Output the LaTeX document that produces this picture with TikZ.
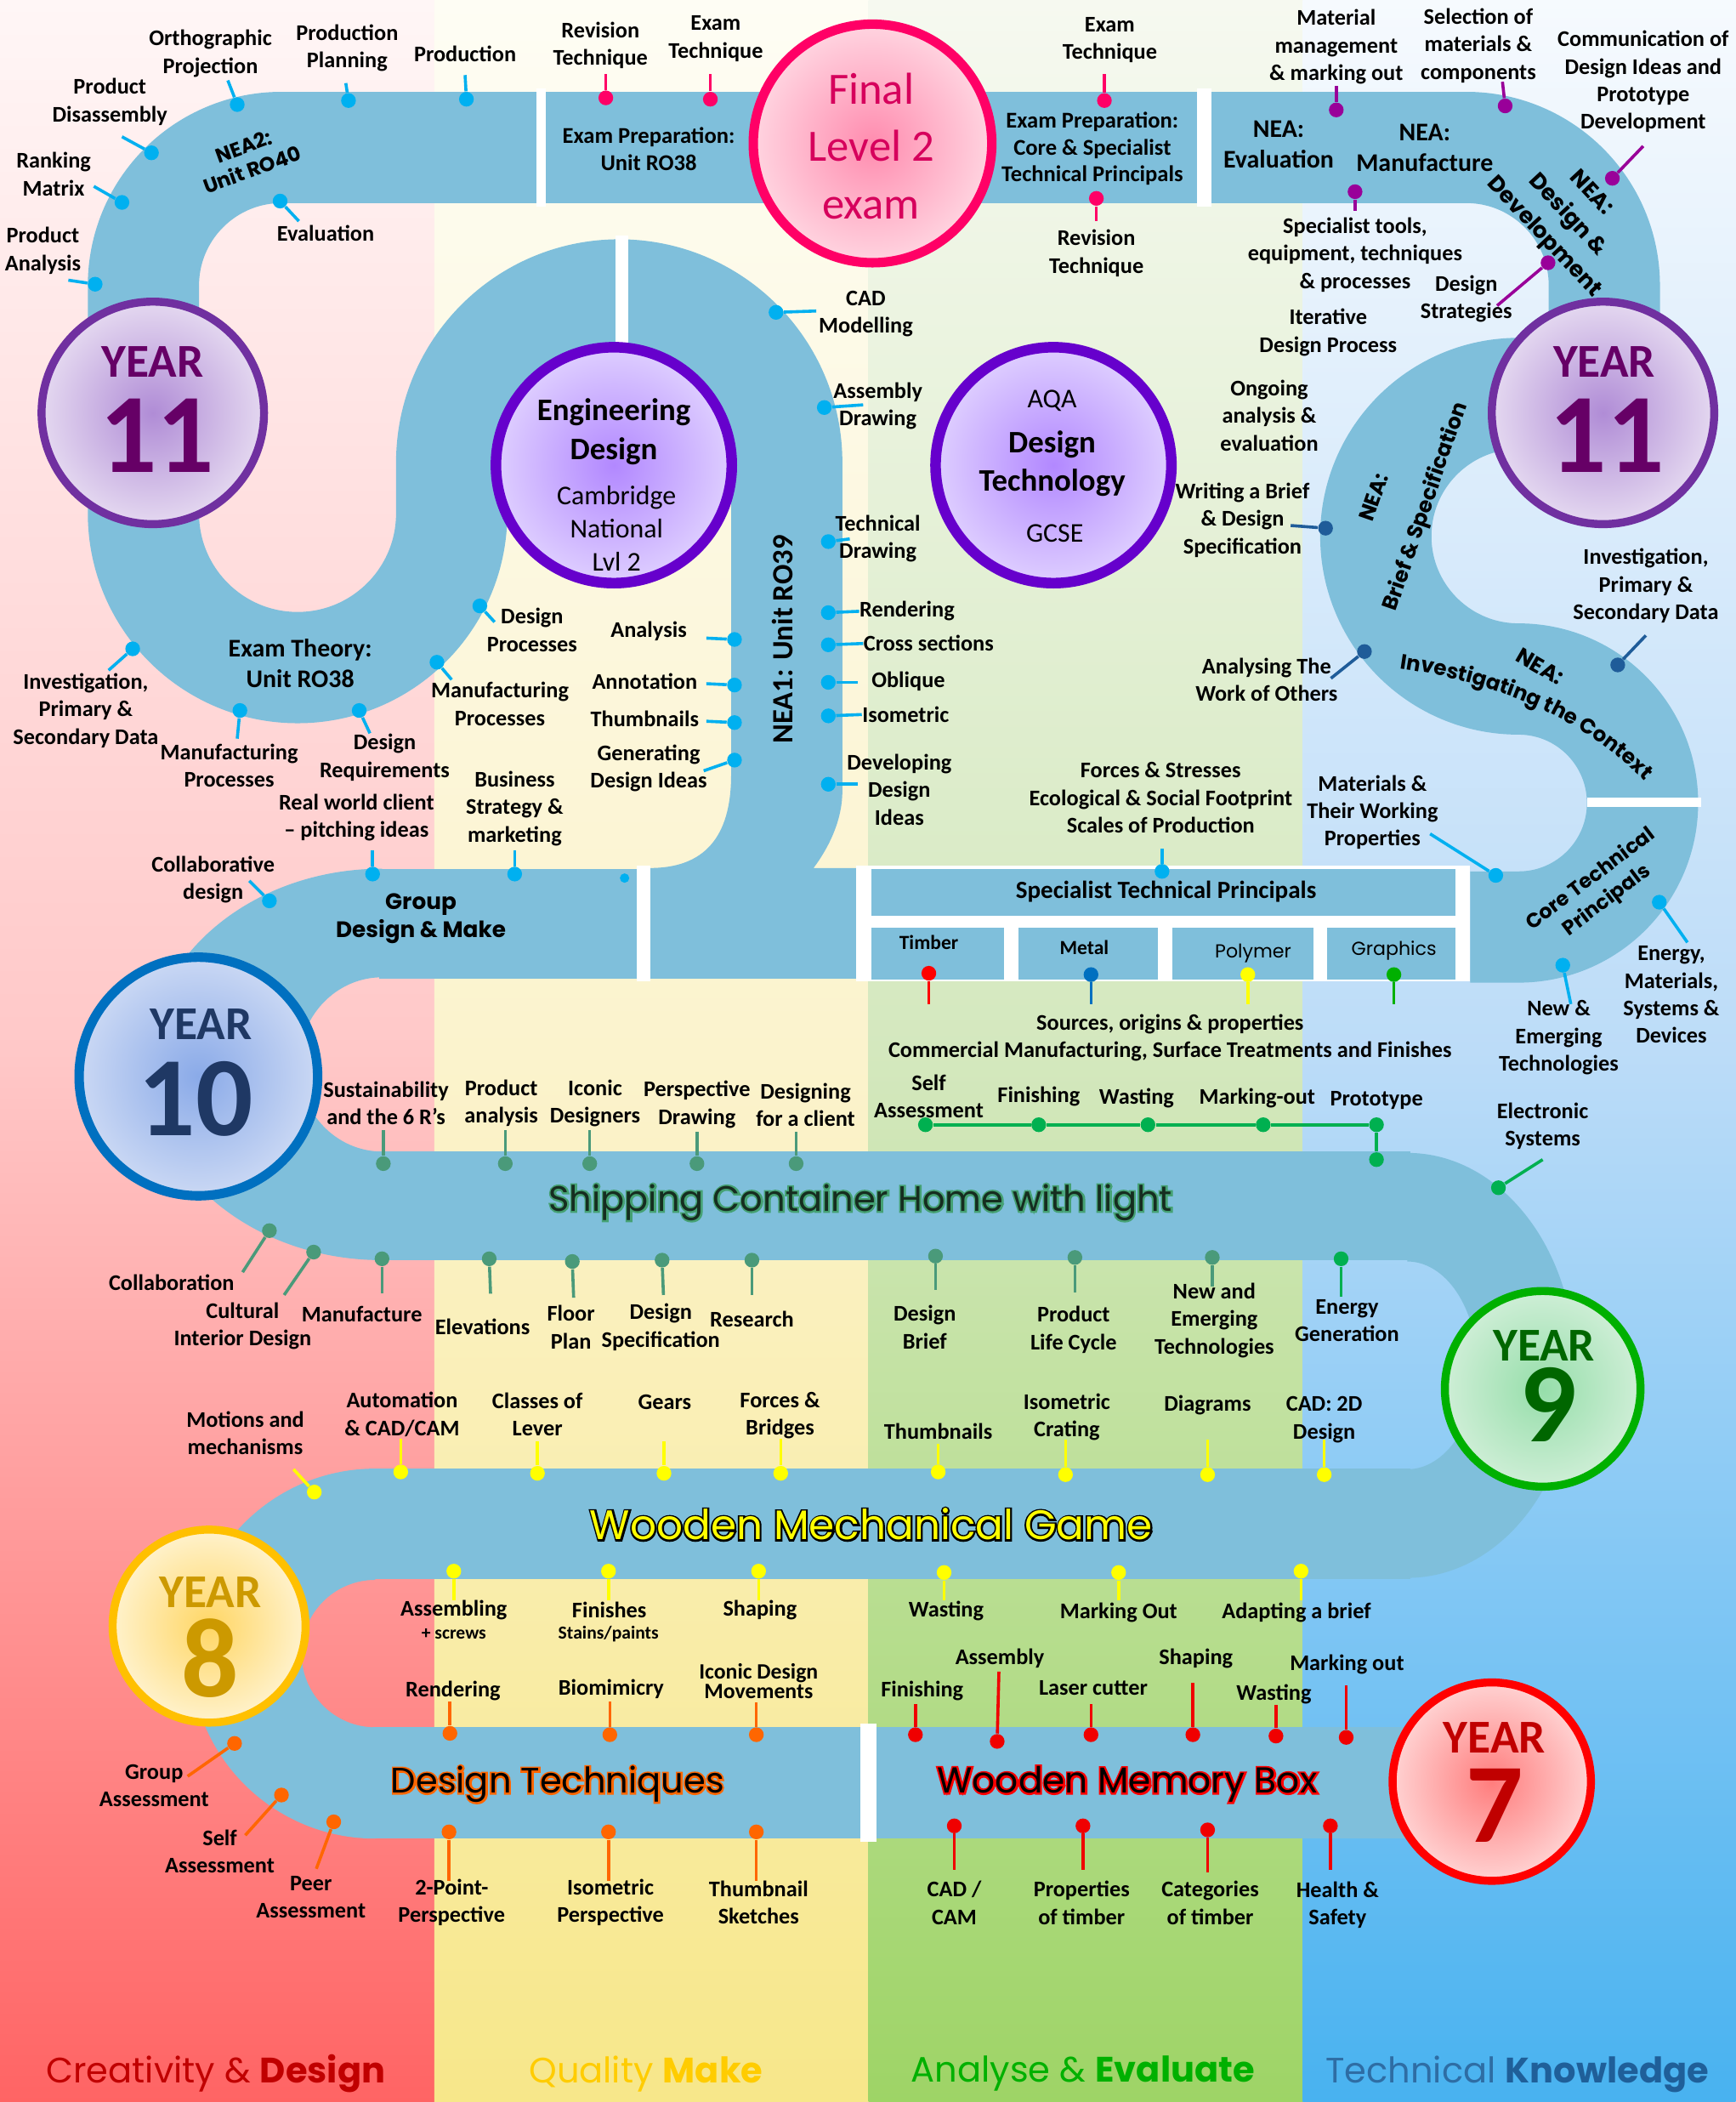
\documentclass[tikz,border=0pt]{standalone}
\usepackage{fontspec}
\setmainfont{Carlito}
\newfontfamily\gothic{Poppins}
\usetikzlibrary{decorations.text}

\definecolor{roadc}{RGB}{127,191,219}
\definecolor{bgRt}{RGB}{255,246,246}\definecolor{bgRm}{RGB}{255,200,200}\definecolor{bgRb}{RGB}{255,100,100}
\definecolor{bgYt}{RGB}{254,253,244}\definecolor{bgYm}{RGB}{251,243,205}\definecolor{bgYb}{RGB}{247,231,138}
\definecolor{bgGt}{RGB}{246,249,240}\definecolor{bgGm}{RGB}{212,232,190}\definecolor{bgGb}{RGB}{158,212,102}
\definecolor{bgBt}{RGB}{246,250,254}\definecolor{bgBm}{RGB}{188,220,248}\definecolor{bgBb}{RGB}{72,178,240}
\definecolor{camb}{RGB}{0,176,240}
\definecolor{exm}{RGB}{255,0,102}
\definecolor{neap}{RGB}{153,0,153}
\definecolor{neab}{RGB}{31,92,153}
\definecolor{ship}{RGB}{74,154,122}
\definecolor{proto}{RGB}{0,176,80}
\definecolor{mech}{RGB}{255,255,0}
\definecolor{tech}{RGB}{255,102,0}
\definecolor{memo}{RGB}{240,0,0}
\definecolor{metc}{RGB}{0,112,192}
\definecolor{grac}{RGB}{0,176,0}
\definecolor{y11b}{RGB}{112,48,160}\definecolor{y11i}{RGB}{176,140,214}\definecolor{y11o}{RGB}{228,216,240}\definecolor{y11t}{RGB}{102,0,102}
\definecolor{engb}{RGB}{102,0,204}\definecolor{engi}{RGB}{178,136,255}\definecolor{engo}{RGB}{222,206,255}
\definecolor{finb}{RGB}{255,0,102}\definecolor{fini}{RGB}{255,140,175}\definecolor{fino}{RGB}{255,212,224}\definecolor{fint}{RGB}{214,0,92}
\definecolor{y10b}{RGB}{0,112,192}\definecolor{y10i}{RGB}{138,170,232}\definecolor{y10o}{RGB}{202,216,244}\definecolor{y10t}{RGB}{31,56,100}
\definecolor{y9b}{RGB}{0,176,0}\definecolor{y9i}{RGB}{150,222,170}\definecolor{y9o}{RGB}{206,238,214}\definecolor{y9t}{RGB}{0,102,0}
\definecolor{y8b}{RGB}{255,192,0}\definecolor{y8i}{RGB}{255,214,100}\definecolor{y8o}{RGB}{255,242,204}\definecolor{y8t}{RGB}{204,153,0}
\definecolor{y7b}{RGB}{255,0,0}\definecolor{y7i}{RGB}{255,125,125}\definecolor{y7o}{RGB}{255,210,210}\definecolor{y7t}{RGB}{192,0,0}
\definecolor{shipf}{RGB}{22,45,32}
\definecolor{lgR}{RGB}{192,0,0}\definecolor{lgY}{RGB}{255,204,0}\definecolor{lgG}{RGB}{0,176,0}\definecolor{lgB}{RGB}{46,109,164}\definecolor{lgBb}{RGB}{31,95,153}

% outlined title: stroke copy underneath, filled copy on top
\newcommand\ghalo[3]{\leavevmode
  \rlap{\special{pdf:literal #1 RG 1 Tr 1.5 w}#3\special{pdf:literal 0 Tr}}%
  \textcolor{#2}{#3}}

\begin{document}
\begin{tikzpicture}[x=0.02cm, y=-0.02cm,
  road/.style={draw=roadc, line width=1.66cm, line join=round},
  roadfill/.style={fill=roadc},
  gap/.style={fill=white},
  lbl/.style={font=\fontsize{9.5}{11.7}\selectfont\bfseries, align=center, inner sep=0pt},
  small/.style={font=\fontsize{7.8}{8}\selectfont\bfseries, inner sep=0pt},
  onroad/.style={font=\fontsize{9.6}{11.4}\selectfont\bfseries, align=center, inner sep=0pt},
  bent/.style={font=\gothic\bfseries\fontsize{9}{11.3}\selectfont, align=center, inner sep=0pt},
  pin/.style={line width=1.3pt},
  pdot/.style={circle, fill, inner sep=0pt, minimum size=0.22cm},
  ball/.style={circle, inner sep=0pt, line width=3.4pt},
  yeartxt/.style={font=\fontsize{20}{20}\selectfont\bfseries, inner sep=0pt},
  yearnum/.style={font=\fontsize{48}{48}\selectfont\bfseries, inner sep=0pt},
  legend/.style={font=\gothic\fontsize{15}{15}\selectfont, inner sep=0pt}]

\useasboundingbox (0,0) rectangle (1295,1568);

% colour bands
\shade[top color=bgRt, bottom color=bgRb, middle color=bgRm] (0,0) rectangle (324.5,1568);
\shade[top color=bgYt, bottom color=bgYb, middle color=bgYm] (324,0) rectangle (648.5,1568);
\shade[top color=bgGt, bottom color=bgGb, middle color=bgGm] (648,0) rectangle (972.5,1568);
\shade[top color=bgBt, bottom color=bgBb, middle color=bgBm] (972,0) rectangle (1295,1568);

% year 11 road, both routes
\draw[road] (1097,691.5) -- (1133,691.5) arc[start angle=90, end angle=-90, radius=92.5]
  arc[start angle=90, end angle=270, radius=106.5] -- (1197,293.5) -- (1197,213)
  arc[start angle=0, end angle=-90, radius=103] -- (210,110)
  arc[start angle=-90, end angle=-180, radius=103] -- (107,383)
  arc[start angle=180, end angle=0, radius=115] -- (337,345)
  arc[start angle=180, end angle=360, radius=125];
\fill[roadfill] (545.5,343) -- (545.5,578) .. controls (545.5,625) and (525,647.5) .. (485,647.5)
  -- (485,730) -- (640,730) -- (640,647.5) -- (607,647.5) .. controls (620,630) and (628.5,610) .. (628.5,590)
  -- (628.5,343) -- cycle;

% year 10 down to year 7
\fill[roadfill] (283,648) rectangle (480,730);
\fill[roadfill] (285,648) arc[start angle=270, end angle=90, x radius=175, y radius=146]
  -- (285,859) arc[start angle=90, end angle=270, x radius=62, y radius=65] -- cycle;
\fill[roadfill] (283,859) rectangle (1052,940);
\fill[roadfill] (1050,860) arc[start angle=-90, end angle=90, x radius=125, y radius=158.5]
  -- (1050,1096) arc[start angle=90, end angle=-90, x radius=52, y radius=77.5] -- cycle;
\fill[roadfill] (278,1095.5) rectangle (1052,1178);
\fill[roadfill] (280,1095.5) arc[start angle=270, end angle=90, radius=138]
  -- (280,1288.5) arc[start angle=90, end angle=270, radius=55] -- cycle;
\fill[roadfill] (278,1288.5) rectangle (1110,1371.5);

% breaks in the road
\fill[gap] (400,66) rectangle (407,154);
\fill[gap] (893,66) rectangle (904,154);
\fill[gap] (459,176) rectangle (469,264);
\fill[gap] (475,646) rectangle (485,732);
\fill[gap] (642,1286) rectangle (654,1374);
\fill[gap] (1184,595) rectangle (1269,602);
\fill[gap] (639,646) rectangle (1097,732);
\fill[roadfill] (650,648) rectangle (1086,683);
\fill[roadfill] (650,692) rectangle (749,731);
\fill[roadfill] (760,692) rectangle (864,731);
\fill[roadfill] (875,692) rectangle (980,731);
\fill[roadfill] (990,692) rectangle (1086,731);

% circles
\node[ball, draw=finb, line width=4pt, inner color=fini, outer color=fino, minimum size=3.56cm] (fin) at (651,107) {};
\node[ball, draw=y11b, inner color=y11i, outer color=y11o, minimum size=3.32cm] (y11l) at (114,308) {};
\node[ball, draw=y11b, inner color=y11i, outer color=y11o, minimum size=3.32cm] (y11r) at (1196,308) {};
\node[ball, draw=engb, line width=4.5pt, inner color=engi, outer color=engo, minimum size=3.52cm] (engc) at (458,347) {};
\node[ball, draw=engb, line width=4.5pt, inner color=engi, outer color=engo, minimum size=3.52cm] (aqac) at (786,347) {};
\node[ball, draw=y10b, line width=4pt, inner color=y10i, outer color=y10o, minimum size=3.56cm] (y10) at (148,803) {};
\node[ball, draw=y9b, inner color=y9i, outer color=y9o, minimum size=2.92cm] (y9) at (1151,1036) {};
\node[ball, draw=y8b, inner color=y8i, outer color=y8o, minimum size=2.88cm] (y8) at (156,1213) {};
\node[ball, draw=y7b, inner color=y7i, outer color=y7o, minimum size=2.96cm] (y7) at (1113,1329) {};

\node[font=\fontsize{19}{24.4}\selectfont, text=fint, align=center, inner sep=0pt] (finT) at (650,109) {Final\\Level 2\\exam};
\node[yeartxt, text=y11t] (y11lY) at (114,270) {YEAR};
\node[yearnum, text=y11t] (y11lN) at (117,325) {11};
\node[yeartxt, text=y11t] (y11rY) at (1197,270) {YEAR};
\node[yearnum, text=y11t] (y11rN) at (1199,325) {11};
\node[font=\fontsize{13.3}{16.4}\selectfont\bfseries, align=center, inner sep=0pt] (engT) at (458,322) {Engineering\\Design};
\node[font=\fontsize{11.5}{14.1}\selectfont, align=center, inner sep=0pt] (engS) at (460,394) {Cambridge\\National\\Lvl 2};
\node[font=\fontsize{11.5}{14}\selectfont, inner sep=0pt] (aqaT) at (785,299) {AQA};
\node[font=\fontsize{13.3}{16.3}\selectfont\bfseries, align=center, inner sep=0pt] (aqaD) at (785,346) {Design\\Technology};
\node[font=\fontsize{11.5}{14}\selectfont, inner sep=0pt] (aqaG) at (787,398) {GCSE};
\node[yeartxt, text=y10t] (y10Y) at (150,764) {YEAR};
\node[yearnum, text=y10t] (y10N) at (146,820) {10};
\node[yeartxt, text=y9t] (y9Y) at (1152,1004) {YEAR};
\node[yearnum, text=y9t] (y9N) at (1155,1048) {9};
\node[yeartxt, text=y8t] (y8Y) at (157,1188) {YEAR};
\node[yearnum, text=y8t] (y8N) at (157,1237) {8};
\node[yeartxt, text=y7t] (y7Y) at (1115,1296) {YEAR};
\node[yearnum, text=y7t] (y7N) at (1115,1347) {7};

% text on the road
\node[bent, font=\gothic\bfseries\fontsize{8.6}{10.5}\selectfont, rotate=20] (nea2) at (185,118) {NEA2:\\Unit RO40};
\node[onroad] (exp1) at (484,111) {Exam Preparation:\\Unit RO38};
\node[onroad] (exp2) at (815,111) {Exam Preparation:\\Core \& Specialist\\Technical Principals};
\node[onroad, font=\fontsize{10.8}{13}\selectfont\bfseries] (neaE) at (954,108) {NEA:\\Evaluation};
\node[onroad, font=\fontsize{10.8}{13}\selectfont\bfseries] (neaM) at (1063,110) {NEA:\\Manufacture};
\node[bent, font=\gothic\bfseries\fontsize{9.5}{13.6}\selectfont, rotate=-47] (neaD) at (1169,161) {NEA:\\Design \&\\Development};
\node[bent, rotate=71] (neaB1) at (1025,371) {NEA:};
\node[bent, rotate=71] (neaB2) at (1064,378) {Brief \& Specification};
\node[bent, font=\gothic\bfseries\fontsize{9.3}{11.3}\selectfont, rotate=-30] (neaI1) at (1149,497) {NEA:};
\path[decorate, decoration={text along path, text align=center,
  text={|\gothic\bfseries\fontsize{8.9}{10}\selectfont|Investigating the Context}}]
  (1040,498) .. controls (1105,507) and (1178,530) .. (1230,586);
\node[bent, font=\gothic\bfseries\fontsize{8.6}{11.3}\selectfont, rotate=37] (ctp) at (1193,664) {Core Technical\\Principals};
\node[onroad, font=\fontsize{10.8}{13}\selectfont\bfseries] (exth) at (224,495) {Exam Theory:\\Unit RO38};
\node[onroad, font=\fontsize{12.5}{13}\selectfont\bfseries, rotate=90] (nea1) at (584,477) {NEA1: Unit RO39};
\node[bent, font=\gothic\bfseries\fontsize{9.5}{12}\selectfont] (grp) at (314,685) {Group\\Design \& Make};
\node[onroad, font=\fontsize{10.5}{11}\selectfont\bfseries] (stp) at (870,665) {Specialist Technical Principals};
\node[onroad, font=\fontsize{8.5}{9}\selectfont\bfseries] (tim) at (693,703) {Timber};
\node[onroad, font=\fontsize{8.5}{9}\selectfont\bfseries] (met) at (809,707) {Metal};
\node[onroad, font=\gothic\fontsize{8}{9}\selectfont] (pol) at (935,711) {Polymer};
\node[onroad, font=\gothic\fontsize{8}{9}\selectfont] (gra) at (1040,709) {Graphics};
\node[inner sep=0pt, font=\gothic\fontsize{15}{15}\selectfont] (shipT) at (642,897) {\ghalo{0.27 0.63 0.45}{shipf}{Shipping Container Home with light}};
\node[inner sep=0pt, font=\gothic\fontsize{17.5}{17.5}\selectfont] (wmgT) at (650,1137) {\ghalo{0 0 0}{mech}{Wooden Mechanical Game}};
\node[inner sep=0pt, font=\gothic\fontsize{15}{15}\selectfont] (dtT) at (416,1331) {\ghalo{1 0.4 0}{black}{Design Techniques}};
\node[inner sep=0pt, font=\gothic\fontsize{15.3}{15.3}\selectfont] (wmbT) at (841,1331) {\ghalo{1 0 0}{black}{Wooden Memory Box}};

% year 11: NEA2 and exam
\node[lbl] (pan) at (32,187) {Product\\Analysis}; \coordinate (panE) at (51,209);
\node[pdot,camb] (panD) at (71,212) {}; \draw[pin,camb] (panD) -- (panE);
\node[lbl] (rkm) at (40,130) {Ranking\\Matrix}; \coordinate (rkmE) at (70,139);
\node[pdot,camb] (rkmD) at (91,151) {}; \draw[pin,camb] (rkmD) -- (rkmE);
\node[lbl] (pdis) at (82,76) {Product\\Disassembly}; \coordinate (pdisE) at (91,102);
\node[pdot,camb] (pdisD) at (113,114) {}; \draw[pin,camb] (pdisD) -- (pdisE);
\node[lbl] (orth) at (157,40) {Orthographic\\Projection}; \coordinate (orthE) at (170,60);
\node[pdot,camb] (orthD) at (177,78) {}; \draw[pin,camb] (orthD) -- (orthE);
\node[lbl] (pplan) at (259,36) {Production\\Planning}; \coordinate (pplanE) at (258,62);
\node[pdot,camb] (pplanD) at (260,75) {}; \draw[pin,camb] (pplanD) -- (pplanE);
\node[lbl] (prod) at (347,40) {Production}; \coordinate (prodE) at (347,56);
\node[pdot,camb] (prodD) at (348,74) {}; \draw[pin,camb] (prodD) -- (prodE);
\node[lbl] (evl) at (243,174) {Evaluation}; \coordinate (evlE) at (223,165);
\node[pdot,camb] (evlD) at (209,150) {}; \draw[pin,camb] (evlD) -- (evlE);
\node[lbl] (rvt1) at (448,34) {Revision\\Technique}; \coordinate (rvt1E) at (452,55);
\node[pdot,exm] (rvt1D) at (452,73) {}; \draw[pin,exm] (rvt1D) -- (rvt1E);
\node[lbl] (ext1) at (534,29) {Exam\\Technique}; \coordinate (ext1E) at (530,55);
\node[pdot,exm] (ext1D) at (530,74) {}; \draw[pin,exm] (ext1D) -- (ext1E);
\node[lbl] (ext2) at (828,30) {Exam\\Technique}; \coordinate (ext2E) at (824,55);
\node[pdot,exm] (ext2D) at (824,75) {}; \draw[pin,exm] (ext2D) -- (ext2E);
\node[lbl] (rvt2) at (818,189) {Revision\\Technique}; \coordinate (rvt2E) at (818,165);
\node[pdot,exm] (rvt2D) at (818,148) {}; \draw[pin,exm] (rvt2D) -- (rvt2E);

% year 11: exam theory loop and NEA1
\node[lbl] (inv) at (64,530) {Investigation,\\Primary \&\\Secondary Data}; \coordinate (invE) at (81,500);
\node[pdot,camb] (invD) at (99,484) {}; \draw[pin,camb] (invD) -- (invE);
\node[lbl] (mfp1) at (171,571) {Manufacturing\\Processes}; \coordinate (mfp1E) at (177,551);
\node[pdot,camb] (mfp1D) at (179,530) {}; \draw[pin,camb] (mfp1D) -- (mfp1E);
\node[lbl] (dreq) at (287,565) {Design\\Requirements}; \coordinate (dreqE) at (276,547);
\node[pdot,camb] (dreqD) at (268,530) {}; \draw[pin,camb] (dreqD) -- (dreqE);
\node[lbl] (dproc) at (397,470) {Design\\Processes}; \coordinate (dprocE) at (369,464);
\node[pdot,camb] (dprocD) at (358,452) {}; \draw[pin,camb] (dprocD) -- (dprocE);
\node[lbl] (mfp2) at (373,525) {Manufacturing\\Processes}; \coordinate (mfp2E) at (337,507);
\node[pdot,camb] (mfp2D) at (326,494) {}; \draw[pin,camb] (mfp2D) -- (mfp2E);
\node[lbl] (ana) at (484,471) {Analysis}; \coordinate (anaE) at (527,476);
\node[pdot,camb] (anaD) at (548,477) {}; \draw[pin,camb] (anaD) -- (anaE);
\node[lbl] (ann) at (481,508) {Annotation}; \coordinate (annE) at (527,510);
\node[pdot,camb] (annD) at (548,511) {}; \draw[pin,camb] (annD) -- (annE);
\node[lbl] (thb) at (481,536) {Thumbnails}; \coordinate (thbE) at (527,538);
\node[pdot,camb] (thbD) at (548,539) {}; \draw[pin,camb] (thbD) -- (thbE);
\node[lbl] (gen) at (484,573) {Generating\\Design Ideas}; \coordinate (genE) at (525,575);
\node[pdot,camb] (genD) at (548,567) {}; \draw[pin,camb] (genD) -- (genE);
\node[lbl] (rwc) at (266,610) {Real world client\\– pitching ideas}; \coordinate (rwcE) at (278,634);
\node[pdot,camb] (rwcD) at (278,652) {}; \draw[pin,camb] (rwcD) -- (rwcE);
\node[lbl] (bsm) at (384,603) {Business\\Strategy \&\\marketing}; \coordinate (bsmE) at (384,634);
\node[pdot,camb] (bsmD) at (384,652) {}; \draw[pin,camb] (bsmD) -- (bsmE);
\node[lbl] (cold) at (159,656) {Collaborative\\design}; \coordinate (coldE) at (186,657);
\node[pdot,camb] (coldD) at (201,672) {}; \draw[pin,camb] (coldD) -- (coldE);
\node[pdot,camb, minimum size=0.14cm] (hdot) at (466,655) {};
\node[lbl] (cad) at (646,234) {CAD\\Modelling}; \coordinate (cadE) at (609,232);
\node[pdot,camb] (cadD) at (579,233) {}; \draw[pin,camb] (cadD) -- (cadE);
\node[lbl] (asd) at (655,303) {Assembly\\Drawing}; \coordinate (asdE) at (644,302);
\node[pdot,camb] (asdD) at (615,304) {}; \draw[pin,camb] (asdD) -- (asdE);
\node[lbl] (tcd) at (655,402) {Technical\\Drawing}; \coordinate (tcdE) at (634,402);
\node[pdot,camb] (tcdD) at (618,404) {}; \draw[pin,camb] (tcdD) -- (tcdE);
\node[lbl, anchor=west] (rend) at (641,456) {Rendering};
\node[pdot,camb] (rendD) at (618,457) {}; \draw[pin,camb] (rendD) -- (rend.west);
\node[lbl, anchor=west] (crs) at (644,480) {Cross sections};
\node[pdot,camb] (crsD) at (618,481) {}; \draw[pin,camb] (crsD) -- (crs.west);
\node[lbl, anchor=west] (obl) at (650,508) {Oblique}; \coordinate (oblE) at (640,509);
\node[pdot,camb] (oblD) at (618,509) {}; \draw[pin,camb] (oblD) -- (oblE);
\node[lbl, anchor=west] (iso) at (643,533) {Isometric};
\node[pdot,camb] (isoD) at (618,534) {}; \draw[pin,camb] (isoD) -- (iso.west);
\node[lbl] (ddi) at (671,589) {Developing\\Design\\Ideas}; \coordinate (ddiE) at (640,585);
\node[pdot,camb] (ddiD) at (618,585) {}; \draw[pin,camb] (ddiD) -- (ddiE);

% year 11: GCSE NEA
\node[lbl] (mmm) at (997,35) {Material\\management\\\& marking out}; \coordinate (mmmE) at (997,64);
\node[pdot,neap] (mmmD) at (997,82) {}; \draw[pin,neap] (mmmD) -- (mmmE);
\node[lbl] (sel) at (1103,34) {Selection of\\materials \&\\components}; \coordinate (selE) at (1121,61);
\node[pdot,neap] (selD) at (1123,79) {}; \draw[pin,neap] (selD) -- (selE);
\node[lbl] (com) at (1226,61) {Communication of\\Design Ideas and\\Prototype\\Development}; \coordinate (comE) at (1226,109);
\node[pdot,neap] (comD) at (1203,133) {}; \draw[pin,neap] (comD) -- (comE);
\node[lbl] (spt) at (1011,190) {Specialist tools,\\equipment, techniques\\\& processes}; \coordinate (sptE) at (1011,157);
\node[pdot,neap] (sptD) at (1011,143) {}; \draw[pin,neap] (sptD) -- (sptE);
\node[lbl] (dst) at (1094,223) {Design\\Strategies}; \coordinate (dstE) at (1117,228);
\node[pdot,neap] (dstD) at (1155,196) {}; \draw[pin,neap] (dstD) -- (dstE);
\node[lbl] (itr) at (991,248) {Iterative\\Design Process};
\node[lbl] (ong) at (947,310) {Ongoing\\analysis \&\\evaluation};
\node[lbl] (wrb) at (927,388) {Writing a Brief\\\& Design\\Specification}; \coordinate (wrbE) at (963,392);
\node[pdot,neab] (wrbD) at (989,394) {}; \draw[pin,neab] (wrbD) -- (wrbE);
\node[lbl] (awo) at (945,507) {Analysing The\\Work of Others}; \coordinate (awoE) at (993,506);
\node[pdot,neab] (awoD) at (1018,486) {}; \draw[pin,neab] (awoD) -- (awoE);
\node[lbl] (inv2) at (1228,437) {Investigation,\\Primary \&\\Secondary Data}; \coordinate (inv2E) at (1228,474);
\node[pdot,neab] (inv2D) at (1207,496) {}; \draw[pin,neab] (inv2D) -- (inv2E);

% year 10: core and specialist principles
\node[lbl] (fss) at (866,595) {Forces \& Stresses\\Ecological \& Social Footprint\\Scales of Production}; \coordinate (fssE) at (867,633);
\node[pdot,camb] (fssD) at (867,650) {}; \draw[pin,camb] (fssD) -- (fssE);
\node[lbl] (mtw) at (1024,606) {Materials \&\\Their Working\\Properties}; \coordinate (mtwE) at (1067,622);
\node[pdot,camb] (mtwD) at (1116,653) {}; \draw[pin,camb] (mtwD) -- (mtwE);
\node[lbl] (ems) at (1247,742) {Energy,\\Materials,\\Systems \&\\Devices}; \coordinate (emsE) at (1259,703);
\node[pdot,camb] (emsD) at (1238,673) {}; \draw[pin,camb] (emsD) -- (emsE);
\node[lbl] (nae) at (1163,774) {New \&\\Emerging\\Technologies}; \coordinate (naeE) at (1172,749);
\node[pdot,camb] (naeD) at (1166,720) {}; \draw[pin,camb] (naeD) -- (naeE);
\coordinate (timE) at (693,749); \node[pdot,red] (timD) at (693,726) {}; \draw[pin,red] (timD) -- (timE);
\coordinate (metE) at (814,749); \node[pdot,metc] (metD) at (814,727) {}; \draw[pin,metc] (metD) -- (metE);
\coordinate (polE) at (931,749); \node[pdot,mech] (polD) at (931,727) {}; \draw[pin,mech] (polD) -- (polE);
\coordinate (graE) at (1040,749); \node[pdot,grac] (graD) at (1040,727) {}; \draw[pin,grac] (graD) -- (graE);
\node[lbl] (src) at (873,764) {Sources, origins \& properties};
\node[lbl] (cmf) at (873,784) {Commercial Manufacturing, Surface Treatments and Finishes};
\node[lbl] (sas) at (693,818) {Self\\Assessment};
\node[lbl] (fin1) at (775,818) {Finishing};
\node[lbl] (was1) at (848,819) {Wasting};
\node[lbl] (mko) at (938,819) {Marking-out};
\node[lbl] (pro) at (1027,821) {Prototype};
\node[pdot,proto] (sasD) at (690.5,839) {};
\node[pdot,proto] (fin1D) at (775,839) {};
\node[pdot,proto] (was1D) at (856.5,839) {};
\node[pdot,proto] (mkoD) at (942.5,839) {};
\node[pdot,proto] (proD) at (1027,839) {};
\node[pdot,proto] (proD2) at (1027,865) {};
\draw[pin,proto] (sasD) -- (fin1D) -- (was1D) -- (mkoD) -- (proD) -- (proD2);

% year 9: shipping container
\node[lbl] (sus) at (288,823) {Sustainability\\and the 6 R’s}; \coordinate (susE) at (286,843);
\node[pdot,ship] (susD) at (286,868) {}; \draw[pin,ship] (susD) -- (susE);
\node[lbl] (pra) at (374,823) {Product\\analysis}; \coordinate (praE) at (377,843);
\node[pdot,ship] (praD) at (377,868) {}; \draw[pin,ship] (praD) -- (praE);
\node[lbl] (icd) at (444,823) {Iconic\\Designers}; \coordinate (icdE) at (440,843);
\node[pdot,ship] (icdD) at (440,868) {}; \draw[pin,ship] (icdD) -- (icdE);
\node[lbl] (prd) at (520,824) {Perspective\\Drawing}; \coordinate (prdE) at (520,844);
\node[pdot,ship] (prdD) at (520,868) {}; \draw[pin,ship] (prdD) -- (prdE);
\node[lbl] (dfc) at (601,824) {Designing\\for a client}; \coordinate (dfcE) at (594,844);
\node[pdot,ship] (dfcD) at (594,868) {}; \draw[pin,ship] (dfcD) -- (dfcE);
\node[lbl] (clb) at (128,957) {Collaboration}; \coordinate (clbE) at (181,949);
\node[pdot,ship] (clbD) at (201,918) {}; \draw[pin,ship] (clbD) -- (clbE);
\node[lbl] (cid) at (181,989) {Cultural\\Interior Design}; \coordinate (cidE) at (212,966);
\node[pdot,ship] (cidD) at (234,934) {}; \draw[pin,ship] (cidD) -- (cidE);
\node[lbl] (mnf) at (270,980) {Manufacture}; \coordinate (mnfE) at (285,965);
\node[pdot,ship] (mnfD) at (285,939) {}; \draw[pin,ship] (mnfD) -- (mnfE);
\node[lbl] (elv) at (360,990) {Elevations}; \coordinate (elvE) at (366,965);
\node[pdot,ship] (elvD) at (365,939) {}; \draw[pin,ship] (elvD) -- (elvE);
\node[lbl] (flp) at (426,990) {Floor\\Plan}; \coordinate (flpE) at (428,968);
\node[pdot,ship] (flpD) at (427,941) {}; \draw[pin,ship] (flpD) -- (flpE);
\node[lbl] (dsp) at (493,990) {Design\\Specification}; \coordinate (dspE) at (495,966);
\node[pdot,ship] (dspD) at (494,940) {}; \draw[pin,ship] (dspD) -- (dspE);
\node[lbl] (res) at (561,984) {Research}; \coordinate (resE) at (561,966);
\node[pdot,ship] (resD) at (561,940) {}; \draw[pin,ship] (resD) -- (resE);
\node[lbl] (dbr) at (690,990) {Design\\Brief}; \coordinate (dbrE) at (698,962);
\node[pdot,ship] (dbrD) at (698,937) {}; \draw[pin,ship] (dbrD) -- (dbrE);
\node[lbl] (plc) at (801,992) {Product\\Life Cycle}; \coordinate (plcE) at (802,964);
\node[pdot,ship] (plcD) at (802,938) {}; \draw[pin,ship] (plcD) -- (plcE);
\node[lbl] (nem) at (906,985) {New and\\Emerging\\Technologies}; \coordinate (nemE) at (904.5,960);
\node[pdot,ship] (nemD) at (904.5,938) {}; \draw[pin,ship] (nemD) -- (nemE);
\node[lbl] (egn) at (1005,985) {Energy\\Generation}; \coordinate (egnE) at (1000.6,967);
\node[pdot,proto] (egnD) at (1000.6,939) {}; \draw[pin,proto] (egnD) -- (egnE);
\node[lbl] (els) at (1151,840) {Electronic\\Systems}; \coordinate (elsE) at (1151,865);
\node[pdot,proto] (elsD) at (1118,886) {}; \draw[pin,proto] (elsD) -- (elsE);

% year 8: wooden mechanical game
\node[lbl] (mom) at (183,1069) {Motions and\\mechanisms}; \coordinate (momE) at (219,1096);
\node[pdot,mech] (momD) at (234.5,1113) {}; \draw[pin,mech] (momD) -- (momE);
\node[lbl] (acc) at (300,1055) {Automation\\\& CAD/CAM}; \coordinate (accE) at (299,1073);
\node[pdot,mech] (accD) at (299,1098) {}; \draw[pin,mech] (accD) -- (accE);
\node[lbl] (clv) at (401,1055) {Classes of\\Lever}; \coordinate (clvE) at (401,1075);
\node[pdot,mech] (clvD) at (401,1099) {}; \draw[pin,mech] (clvD) -- (clvE);
\node[lbl] (gea) at (496,1046) {Gears}; \coordinate (geaE) at (495.4,1075);
\node[pdot,mech] (geaD) at (495.4,1099) {}; \draw[pin,mech] (geaD) -- (geaE);
\node[lbl] (fbr) at (582,1056) {Forces \&\\Bridges}; \coordinate (fbrE) at (582.5,1073);
\node[pdot,mech] (fbrD) at (582.5,1099) {}; \draw[pin,mech] (fbrD) -- (fbrE);
\node[lbl] (thn) at (700,1068) {Thumbnails}; \coordinate (thnE) at (700,1077);
\node[pdot,mech] (thnD) at (700,1098) {}; \draw[pin,mech] (thnD) -- (thnE);
\node[lbl] (icr) at (796,1057) {Isometric\\Crating}; \coordinate (icrE) at (795,1074);
\node[pdot,mech] (icrD) at (795,1100) {}; \draw[pin,mech] (icrD) -- (icrE);
\node[lbl] (dia) at (901,1048) {Diagrams}; \coordinate (diaE) at (901,1074);
\node[pdot,mech] (diaD) at (901,1100) {}; \draw[pin,mech] (diaD) -- (diaE);
\node[lbl] (c2d) at (988,1059) {CAD: 2D\\Design}; \coordinate (c2dE) at (988,1074);
\node[pdot,mech] (c2dD) at (988,1100) {}; \draw[pin,mech] (c2dD) -- (c2dE);
\node[lbl] (asm) at (338.6,1201) {Assembling}; \node[small] (asm2) at (338.6,1219) {+ screws};
\coordinate (asmE) at (338.6,1194); \node[pdot,mech] (asmD) at (338.6,1172) {}; \draw[pin,mech] (asmD) -- (asmE);
\node[lbl] (fns) at (454.6,1201) {Finishes}; \node[small] (fns2) at (454,1218.6) {Stains/paints};
\coordinate (fnsE) at (454,1194); \node[pdot,mech] (fnsD) at (454,1172) {}; \draw[pin,mech] (fnsD) -- (fnsE);
\node[lbl] (shp) at (567,1201) {Shaping}; \coordinate (shpE) at (566,1194);
\node[pdot,mech] (shpD) at (566,1172) {}; \draw[pin,mech] (shpD) -- (shpE);
\node[lbl] (wst) at (706,1201.6) {Wasting}; \coordinate (wstE) at (704.4,1194);
\node[pdot,mech] (wstD) at (704.4,1173) {}; \draw[pin,mech] (wstD) -- (wstE);
\node[lbl] (mkO) at (834.6,1202.7) {Marking Out}; \coordinate (mkOE) at (834.6,1194);
\node[pdot,mech] (mkOD) at (834.6,1173) {}; \draw[pin,mech] (mkOD) -- (mkOE);
\node[lbl] (adb) at (967.3,1202.7) {Adapting a brief}; \coordinate (adbE) at (970.7,1194);
\node[pdot,mech] (adbD) at (970.7,1172) {}; \draw[pin,mech] (adbD) -- (adbE);

% year 8: design techniques
\node[lbl] (rnd) at (338,1261) {Rendering}; \coordinate (rndE) at (335.7,1269);
\node[pdot,tech] (rndD) at (335.7,1293) {}; \draw[pin,tech] (rndD) -- (rndE);
\node[lbl] (bio) at (456,1260) {Biomimicry}; \coordinate (bioE) at (455,1269);
\node[pdot,tech] (bioD) at (455,1294) {}; \draw[pin,tech] (bioD) -- (bioE);
\node[lbl, font=\fontsize{9.3}{8.6}\selectfont\bfseries] (idm) at (566,1254) {Iconic Design\\Movements}; \coordinate (idmE) at (564.3,1270);
\node[pdot,tech] (idmD) at (564.3,1294) {}; \draw[pin,tech] (idmD) -- (idmE);
\node[lbl] (gas) at (115,1332) {Group\\Assessment}; \coordinate (gasE) at (140,1325);
\node[pdot,tech] (gasD) at (175,1300.5) {}; \draw[pin,tech] (gasD) -- (gasE);
\node[lbl] (sfa) at (164,1381) {Self\\Assessment}; \coordinate (sfaE) at (183,1369);
\node[pdot,tech] (sfaD) at (210,1339) {}; \draw[pin,tech] (sfaD) -- (sfaE);
\node[lbl] (pas) at (232,1415) {Peer\\Assessment}; \coordinate (pasE) at (236,1394);
\node[pdot,tech] (pasD) at (249,1359) {}; \draw[pin,tech] (pasD) -- (pasE);
\node[lbl] (tpp) at (337,1419) {2-Point-\\Perspective}; \coordinate (tppE) at (335,1403);
\node[pdot,tech] (tppD) at (335,1366.5) {}; \draw[pin,tech] (tppD) -- (tppE);
\node[lbl] (isp) at (455.5,1419) {Isometric\\Perspective}; \coordinate (ispE) at (454,1403);
\node[pdot,tech] (ispD) at (454,1366.5) {}; \draw[pin,tech] (ispD) -- (ispE);
\node[lbl] (tsk) at (566,1419) {Thumbnail\\Sketches}; \coordinate (tskE) at (564.3,1403);
\node[pdot,tech] (tskD) at (564.3,1366.5) {}; \draw[pin,tech] (tskD) -- (tskE);

% year 7: wooden memory box
\node[lbl] (fnh) at (688,1261) {Finishing}; \coordinate (fnhE) at (683,1271);
\node[pdot,memo] (fnhD) at (683,1294) {}; \draw[pin,memo] (fnhD) -- (fnhE);
\node[lbl] (asy) at (746,1237) {Assembly}; \coordinate (asyE) at (745.3,1247);
\node[pdot,memo] (asyD) at (744,1299) {}; \draw[pin,memo] (asyD) -- (asyE);
\node[lbl] (lsc) at (815.7,1259) {Laser cutter}; \coordinate (lscE) at (814,1271);
\node[pdot,memo] (lscD) at (814,1294) {}; \draw[pin,memo] (lscD) -- (lscE);
\node[lbl] (shg) at (892.3,1237) {Shaping}; \coordinate (shgE) at (890,1255);
\node[pdot,memo] (shgD) at (890,1294) {}; \draw[pin,memo] (shgD) -- (shgE);
\node[lbl] (wsg) at (950.5,1264) {Wasting}; \coordinate (wsgE) at (952,1272);
\node[pdot,memo] (wsgD) at (952,1295) {}; \draw[pin,memo] (wsgD) -- (wsgE);
\node[lbl] (mkt) at (1005,1241.6) {Marking out}; \coordinate (mktE) at (1004.4,1257);
\node[pdot,memo] (mktD) at (1004.4,1296) {}; \draw[pin,memo] (mktD) -- (mktE);
\node[lbl] (ccm) at (712,1419.5) {CAD /\\CAM}; \coordinate (ccmE) at (712,1395);
\node[pdot,memo] (ccmD) at (712,1362) {}; \draw[pin,memo] (ccmD) -- (ccmE);
\node[lbl] (pot) at (807,1419.5) {Properties\\of timber}; \coordinate (potE) at (808,1395);
\node[pdot,memo] (potD) at (808,1362) {}; \draw[pin,memo] (potD) -- (potE);
\node[lbl] (cot) at (903,1419.5) {Categories\\of timber}; \coordinate (cotE) at (901,1397);
\node[pdot,memo] (cotD) at (901,1365) {}; \draw[pin,memo] (cotD) -- (cotE);
\node[lbl] (hns) at (998,1421) {Health \&\\Safety}; \coordinate (hnsE) at (992.6,1395);
\node[pdot,memo] (hnsD) at (992.6,1362) {}; \draw[pin,memo] (hnsD) -- (hnsE);

% band names
\node[legend, text=lgR] (lgC) at (161,1547) {Creativity \& \textbf{Design}};
\node[legend, text=lgY] (lgQ) at (482,1547) {Quality \textbf{Make}};
\node[legend, text=lgG] (lgA) at (808,1547) {Analyse \& \textbf{Evaluate}};
\node[legend, text=lgB] (lgT) at (1132,1547) {Technical \textcolor{lgBb}{\textbf{Knowledge}}};
\end{tikzpicture}
\end{document}
